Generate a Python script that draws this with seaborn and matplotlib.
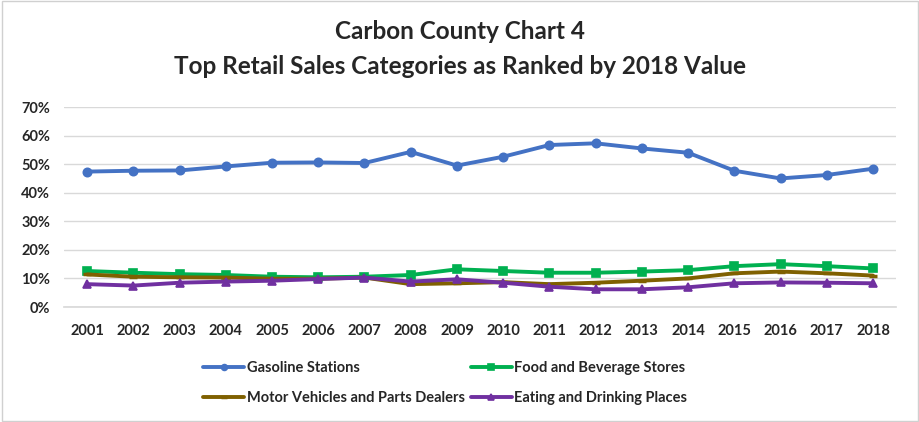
import matplotlib
matplotlib.use("Agg")
import matplotlib.pyplot as plt
import matplotlib.patches as mpatches
import seaborn as sns
import pandas as pd

years = [str(y) for y in range(2001, 2019)]

gasoline = [47.4, 47.7, 47.8, 49.2, 50.5, 50.6, 50.4, 54.3, 49.5, 52.6,
            56.7, 57.3, 55.5, 54.0, 47.7, 45.0, 46.2, 48.4]
food = [12.6, 12.0, 11.5, 11.2, 10.6, 10.4, 10.6, 11.2, 13.2, 12.6,
        12.0, 12.0, 12.4, 12.9, 14.3, 15.0, 14.3, 13.5]
motor = [11.4, 10.6, 10.4, 10.3, 9.9, 9.9, 10.3, 8.0, 8.3, 8.7,
         8.0, 8.5, 9.2, 10.0, 11.8, 12.4, 11.8, 11.0]
eating = [8.0, 7.5, 8.5, 8.9, 9.2, 9.8, 10.3, 8.9, 9.7, 8.5,
          7.1, 6.2, 6.2, 6.9, 8.3, 8.6, 8.5, 8.3]

series_names = ["Gasoline Stations", "Food and Beverage Stores",
                "Motor Vehicles and Parts Dealers", "Eating and Drinking Places"]
series_values = [gasoline, food, motor, eating]
colors = ["#4472C4", "#00B050", "#7F6000", "#7030A0"]
markers = ["o", "s", "_", "^"]
y_ticks = [0, 10, 20, 30, 40, 50, 60, 70]

sns.set_theme(style="white")
plt.rcParams["font.family"] = ["Lato", "DejaVu Sans"]

rows = []
for name, vals in zip(series_names, series_values):
    for i, (yr, v) in enumerate(zip(years, vals)):
        rows.append({"series": name, "idx": i, "year": yr, "share": v})
df = pd.DataFrame(rows)

fig = plt.figure(figsize=(9.2, 4.22), dpi=100)
fig.patch.set_facecolor("white")
ax = fig.add_axes([0.0696, 0.2725, 0.9044, 0.4739])

for name, col, mk in zip(series_names, colors, markers):
    sub = df[df["series"] == name]
    sns.lineplot(data=sub, x="idx", y="share", ax=ax, color=col, linewidth=2.8,
                 marker=mk, markersize=6, markeredgewidth=1.2 if mk != "_" else 2.5,
                 markeredgecolor=col, label=name, legend=False)

ax.set_xlim(-0.5, len(years) - 0.5)
ax.set_ylim(0, 70)
ax.set_xticks(range(len(years)))
ax.set_xticklabels(years, fontsize=10.5, fontweight="bold")
ax.set_yticks(y_ticks)
ax.set_yticklabels([f"{t}%" for t in y_ticks], fontsize=10.5, fontweight="bold")
ax.tick_params(axis="x", length=0, pad=12)
ax.tick_params(axis="y", length=0, pad=10)
ax.set_xlabel("")
ax.set_ylabel("")
ax.grid(axis="y", color="#d9d9d9", linewidth=1)
for s in ["left", "right", "top"]:
    ax.spines[s].set_visible(False)
ax.spines["bottom"].set_color("#d9d9d9")

fig.text(0.5, 0.925, "Carbon County Chart 4", ha="center", va="center",
         fontsize=17.5, fontweight="bold")
fig.text(0.5, 0.843, "Top Retail Sales Categories as Ranked by 2018 Value",
         ha="center", va="center", fontsize=17.5, fontweight="bold")

handles, labels = ax.get_legend_handles_labels()
# matplotlib fills legend columns top-to-bottom; reorder so rows read left-to-right
order = [0, 2, 1, 3]
fig.legend([handles[i] for i in order], [labels[i] for i in order], ncol=2,
           loc="center", bbox_to_anchor=(0.484, 0.092),
           frameon=False, prop={"weight": "bold", "size": 10.5},
           handlelength=2.8, handletextpad=0.2, columnspacing=0.4,
           labelspacing=1.1, markerscale=0.7)

fig.patches.append(mpatches.Rectangle((0.002, 0.003), 0.996, 0.994,
                                      transform=fig.transFigure, fill=False,
                                      edgecolor="#d0d0d0", linewidth=1))

fig.savefig("out.png", dpi=100)
